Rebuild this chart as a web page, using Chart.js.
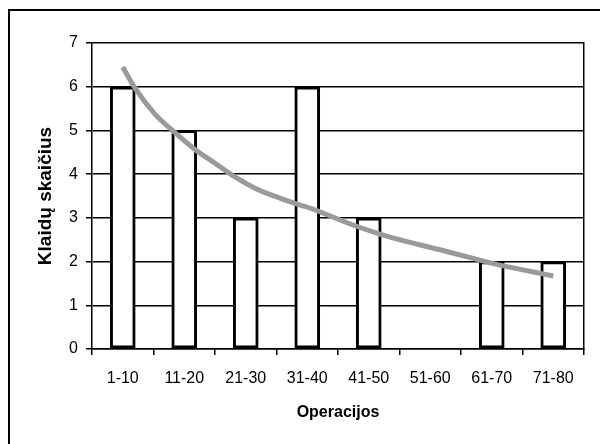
<!DOCTYPE html>
<html>
<head>
<meta charset="utf-8">
<script src="https://cdn.jsdelivr.net/npm/chart.js@4"></script>
<style>
  html, body { margin: 0; padding: 0; background: #fff; overflow: hidden; }
  #frame { position: absolute; left: 8px; top: 9px; width: 700px; height: 500px; border: 2px solid #000; }
  #chart { position: absolute; left: 0; top: 0; }
</style>
</head>
<body>
<div id="frame"></div>
<canvas id="chart" width="600" height="444"></canvas>
<script>
const categories = ['1-10', '11-20', '21-30', '31-40', '41-50', '51-60', '61-70', '71-80'];
const errorCounts = [6, 5, 3, 6, 3, 0, 2, 2];
// trend line; x is the category position (0 = 1-10)
const trendX = [0, 0.2, 0.52, 0.85, 1.17, 1.5, 1.83, 2.15, 2.48, 2.8, 3.13, 3.7, 4.18, 4.67, 5.16, 5.65, 6.13, 6.62, 7];
const trendY = [6.45, 5.97, 5.38, 4.95, 4.57, 4.25, 3.93, 3.68, 3.49, 3.33, 3.18, 2.86, 2.63, 2.44, 2.27, 2.09, 1.92, 1.78, 1.67];

const font = { family: "'Liberation Sans', Arial, sans-serif", size: 16 };
const trendPoints = trendX.map((x, i) => ({ x: x, y: trendY[i] }));

new Chart(document.getElementById('chart'), {
  type: 'bar',
  data: {
    labels: categories,
    datasets: [
      {
        type: 'line',
        label: 'Trend',
        data: trendPoints,
        xAxisID: 'xTrend',
        borderColor: '#9a9a9a',
        borderWidth: 5,
        pointRadius: 0,
        cubicInterpolationMode: 'monotone',
        fill: false,
        order: 0
      },
      {
        label: 'Klaidų skaičius',
        data: errorCounts,
        xAxisID: 'x',
        backgroundColor: '#fff',
        borderColor: '#000',
        borderWidth: 3,
        borderSkipped: false,
        barThickness: 25,
        grouped: false,
        order: 1
      }
    ]
  },
  options: {
    responsive: false,
    animation: false,
    layout: { padding: { top: 43, right: 16, left: 0, bottom: 0 } },
    plugins: {
      legend: { display: false },
      tooltip: { enabled: false }
    },
    scales: {
      x: {
        grid: { drawOnChartArea: false, color: '#000', lineWidth: 1.5, tickLength: 6 },
        border: { color: '#000', width: 1.5 },
        ticks: { color: '#000', font: font, padding: 14, maxRotation: 0 },
        title: {
          display: true,
          text: 'Operacijos',
          color: '#000',
          font: { family: font.family, size: 16, weight: 'bold' },
          padding: { top: 0, bottom: 22 }
        },
        afterFit: scale => { scale.height = 95; }
      },
      xTrend: {
        type: 'linear',
        display: false,
        offset: false,
        min: -0.5,
        max: 7.5
      },
      y: {
        min: 0,
        max: 7,
        ticks: { stepSize: 1, color: '#000', font: font, padding: 8 },
        grid: { color: '#000', lineWidth: 1.5, tickLength: 6 },
        border: { color: '#000', width: 1.5 },
        title: {
          display: true,
          text: 'Klaidų skaičius',
          color: '#000',
          font: { family: font.family, size: 19, weight: 'bold' },
          padding: { top: 34, bottom: 0 }
        },
        afterFit: scale => { scale.width = 92; }
      },
      y2: {
        position: 'right',
        min: 0,
        max: 7,
        ticks: { display: false },
        grid: { display: false },
        border: { display: true, color: '#000', width: 1.5 },
        afterFit: scale => { scale.width = 0; }
      }
    }
  }
});
</script>
</body>
</html>
